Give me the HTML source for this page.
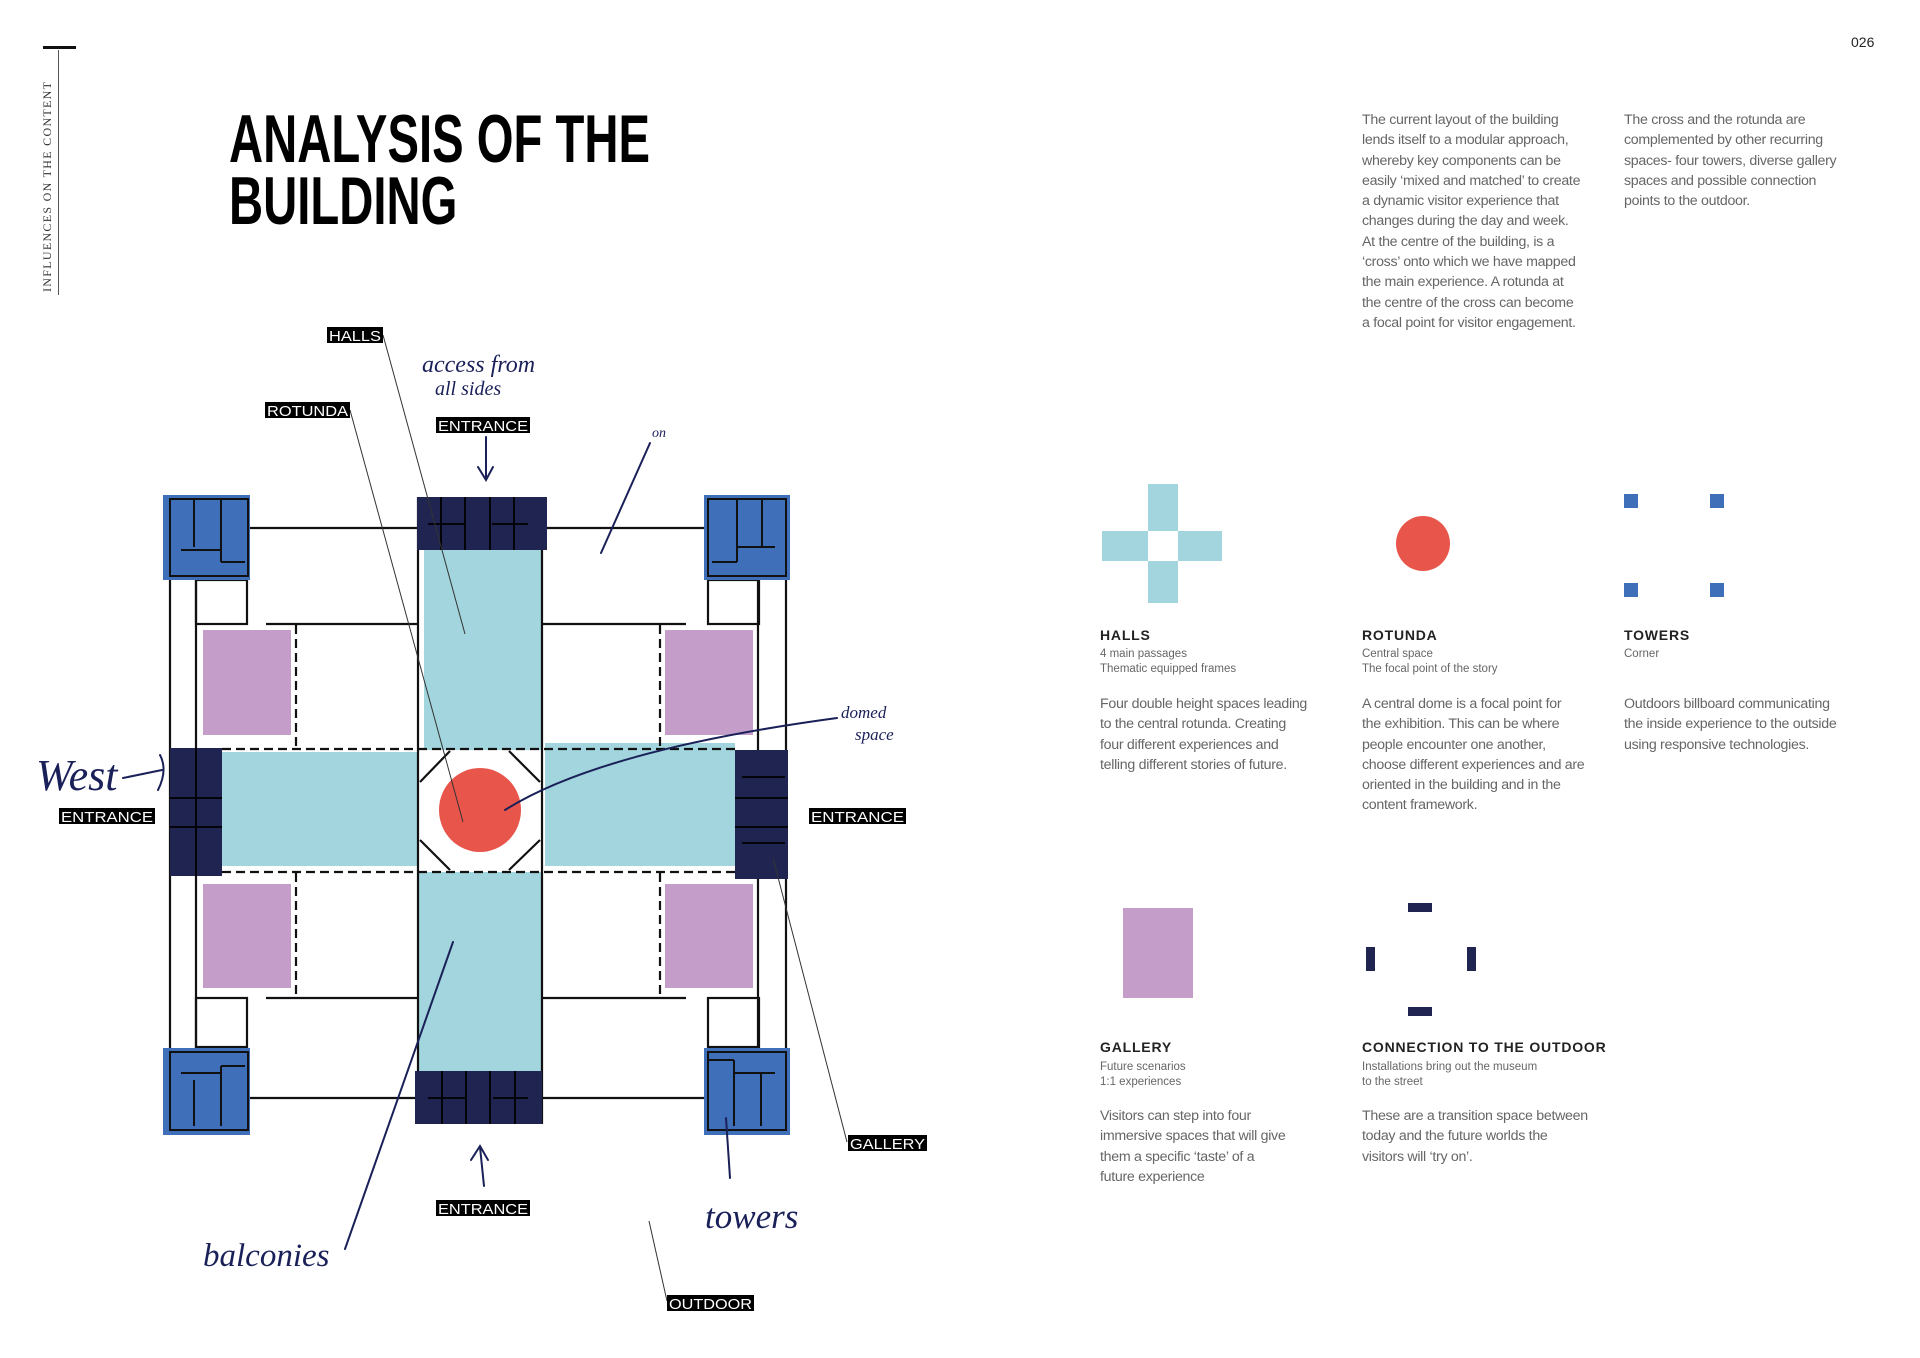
<!DOCTYPE html>
<html><head><meta charset="utf-8"><style>
*{margin:0;padding:0}
body{width:1920px;height:1358px;background:#fff;position:relative;overflow:hidden;font-family:"Liberation Sans",sans-serif}
.a{position:absolute}
.p{color:#666;font-size:14.2px;line-height:20.3px;letter-spacing:-0.3px;white-space:nowrap}
.h{color:#222;font-weight:bold;font-size:14px;letter-spacing:0.8px}
.s{color:#666;font-size:11.5px;line-height:14.5px}
.t{font-family:"Liberation Sans",sans-serif;font-weight:bold;font-size:68px;line-height:62px;color:#000;transform-origin:0 0;transform:scaleX(0.695);white-space:nowrap}
#r{position:absolute;left:-7px;top:0;width:1920px;height:1358px}
</style></head><body>
<div class="a" style="left:43px;top:46px;width:33px;height:3px;background:#111"></div>
<div class="a" style="left:58px;top:50px;width:1px;height:245px;background:#555"></div>
<div class="a" style="left:40px;top:292px;transform-origin:0 0;transform:rotate(-90deg);font-family:'Liberation Serif',serif;font-size:12px;line-height:14px;letter-spacing:1.3px;color:#333;white-space:nowrap;width:240px">INFLUENCES ON THE CONTENT</div>
<div class="a t" style="left:229px;top:108px">ANALYSIS OF THE<br>BUILDING</div>
<div id="r">
<div class="a" style="left:1858px;top:34px;font-size:14px;color:#222">026</div>

<div class="a p" style="left:1369px;top:110px">The current layout of the building<br>lends itself to a modular approach,<br>whereby key components can be<br>easily ‘mixed and matched’ to create<br>a dynamic visitor experience that<br>changes during the day and week.<br>At the centre of the building, is a<br>‘cross’ onto which we have mapped<br>the main experience. A rotunda at<br>the centre of the cross can become<br>a focal point for visitor engagement.</div>
<div class="a p" style="left:1631px;top:110px">The cross and the rotunda are<br>complemented by other recurring<br>spaces- four towers, diverse gallery<br>spaces and possible connection<br>points to the outdoor.</div>

<div class="a" style="left:1155px;top:484px;width:30px;height:119px;background:#a2d5dd"></div>
<div class="a" style="left:1109px;top:531px;width:120px;height:30px;background:#a2d5dd"></div>
<div class="a" style="left:1155px;top:531px;width:30px;height:30px;background:#fff"></div>
<div class="a" style="left:1403px;top:516px;width:54px;height:55px;border-radius:50%;background:#e8554a"></div>
<div class="a" style="left:1631px;top:494px;width:14px;height:14px;background:#3f6fb8"></div>
<div class="a" style="left:1717px;top:494px;width:14px;height:14px;background:#3f6fb8"></div>
<div class="a" style="left:1631px;top:583px;width:14px;height:14px;background:#3f6fb8"></div>
<div class="a" style="left:1717px;top:583px;width:14px;height:14px;background:#3f6fb8"></div>
<div class="a" style="left:1130px;top:908px;width:70px;height:90px;background:#c49dc8"></div>
<div class="a" style="left:1415px;top:903px;width:24px;height:9px;background:#1f2550"></div>
<div class="a" style="left:1415px;top:1007px;width:24px;height:9px;background:#1f2550"></div>
<div class="a" style="left:1373px;top:947px;width:9px;height:24px;background:#1f2550"></div>
<div class="a" style="left:1474px;top:947px;width:9px;height:24px;background:#1f2550"></div>

<div class="a h" style="left:1107px;top:627px">HALLS</div>
<div class="a s" style="left:1107px;top:647px">4 main passages<br>Thematic equipped frames</div>
<div class="a p" style="left:1107px;top:694px">Four double height spaces leading<br>to the central rotunda. Creating<br>four different experiences and<br>telling different stories of future.</div>
<div class="a h" style="left:1369px;top:627px">ROTUNDA</div>
<div class="a s" style="left:1369px;top:647px">Central space<br>The focal point of the story</div>
<div class="a p" style="left:1369px;top:694px">A central dome is a focal point for<br>the exhibition. This can be where<br>people encounter one another,<br>choose different experiences and are<br>oriented in the building and in the<br>content framework.</div>
<div class="a h" style="left:1631px;top:627px">TOWERS</div>
<div class="a s" style="left:1631px;top:647px">Corner</div>
<div class="a p" style="left:1631px;top:694px">Outdoors billboard communicating<br>the inside experience to the outside<br>using responsive technologies.</div>
<div class="a h" style="left:1107px;top:1039px">GALLERY</div>
<div class="a s" style="left:1107px;top:1060px">Future scenarios<br>1:1 experiences</div>
<div class="a p" style="left:1107px;top:1106px">Visitors can step into four<br>immersive spaces that will give<br>them a specific ‘taste’ of a<br>future experience</div>
<div class="a h" style="left:1369px;top:1039px">CONNECTION TO THE OUTDOOR</div>
<div class="a s" style="left:1369px;top:1060px">Installations bring out the museum<br>to the street</div>
<div class="a p" style="left:1369px;top:1106px">These are a transition space between<br>today and the future worlds the<br>visitors will ‘try on’.</div>
</div>

<svg class="a" style="left:0;top:0" width="1000" height="1358" viewBox="0 0 1000 1358">
<g>
<rect x="424" y="550" width="118" height="200" fill="#a2d5dd"/>
<rect x="418" y="872" width="124" height="199" fill="#a2d5dd"/>
<rect x="222" y="752" width="196" height="114" fill="#a2d5dd"/>
<rect x="545" y="743" width="190" height="123" fill="#a2d5dd"/>
<rect x="203" y="630" width="88" height="105" fill="#c49dc8"/>
<rect x="665" y="630" width="88" height="105" fill="#c49dc8"/>
<rect x="203" y="884" width="88" height="104" fill="#c49dc8"/>
<rect x="665" y="884" width="88" height="104" fill="#c49dc8"/>
<g stroke="#111" stroke-width="2.2" fill="none">
<line x1="247" y1="528" x2="417" y2="528"/><line x1="547" y1="528" x2="704" y2="528"/>
<line x1="247" y1="1098" x2="416" y2="1098"/><line x1="542" y1="1098" x2="704" y2="1098"/>
<line x1="170" y1="576" x2="170" y2="1050"/><line x1="786" y1="576" x2="786" y2="1050"/>
<line x1="196" y1="576" x2="196" y2="748"/><line x1="196" y1="876" x2="196" y2="1048"/>
<line x1="758" y1="576" x2="758" y2="750"/><line x1="758" y1="878" x2="758" y2="1048"/>
<rect x="196" y="580" width="51" height="44"/><rect x="708" y="580" width="51" height="44"/>
<rect x="196" y="998" width="51" height="49"/><rect x="708" y="998" width="51" height="49"/>
<line x1="266" y1="624" x2="418" y2="624"/><line x1="542" y1="624" x2="686" y2="624"/>
<line x1="266" y1="998" x2="418" y2="998"/><line x1="542" y1="998" x2="686" y2="998"/>
<line x1="418" y1="497" x2="418" y2="1124"/><line x1="542" y1="497" x2="542" y2="1124"/>
</g>
<g stroke="#111" stroke-width="2.2" stroke-dasharray="9,5" fill="none">
<line x1="222" y1="749" x2="735" y2="749"/><line x1="222" y1="872" x2="735" y2="872"/>
<line x1="296" y1="625" x2="296" y2="748"/><line x1="296" y1="873" x2="296" y2="998"/>
<line x1="660" y1="625" x2="660" y2="748"/><line x1="660" y1="873" x2="660" y2="998"/>
</g>
<polygon points="450,751 509,751 540,782 540,840 509,870 450,870 420,840 420,782" fill="#fff" stroke="none"/>
<g stroke="#111" stroke-width="2.2"><line x1="450" y1="751" x2="420" y2="782"/><line x1="509" y1="751" x2="540" y2="782"/><line x1="420" y1="840" x2="450" y2="870"/><line x1="540" y1="840" x2="509" y2="870"/></g>
<ellipse cx="480" cy="810" rx="41" ry="42" fill="#e8554a"/>
<g fill="#3f6fb8"><rect x="163" y="495" width="87" height="85"/><rect x="704" y="495" width="86" height="85"/><rect x="163" y="1048" width="87" height="87"/><rect x="704" y="1048" width="86" height="87"/></g>
<g stroke="#111" stroke-width="2" fill="none">
<rect x="170" y="499" width="78" height="77"/><line x1="194" y1="499" x2="194" y2="547"/><line x1="221" y1="499" x2="221" y2="562"/><line x1="181" y1="550" x2="221" y2="550"/><line x1="221" y1="562" x2="245" y2="562"/>
<rect x="708" y="499" width="78" height="77"/><line x1="737" y1="499" x2="737" y2="562"/><line x1="762" y1="499" x2="762" y2="547"/><line x1="737" y1="547" x2="775" y2="547"/><line x1="712" y1="562" x2="737" y2="562"/>
<rect x="170" y="1052" width="78" height="78"/><line x1="194" y1="1080" x2="194" y2="1126"/><line x1="221" y1="1066" x2="221" y2="1126"/><line x1="181" y1="1073" x2="221" y2="1073"/><line x1="221" y1="1066" x2="245" y2="1066"/>
<rect x="708" y="1052" width="78" height="78"/><line x1="734" y1="1060" x2="734" y2="1126"/><line x1="761" y1="1073" x2="761" y2="1126"/><line x1="734" y1="1073" x2="775" y2="1073"/><line x1="709" y1="1060" x2="734" y2="1060"/>
</g>
<g fill="#1f2550"><rect x="417" y="497" width="130" height="53"/><rect x="415" y="1071" width="127" height="53"/><rect x="170" y="748" width="52" height="128"/><rect x="735" y="750" width="53" height="129"/></g>
<g stroke="#000" stroke-width="1.8">
<line x1="441" y1="497" x2="441" y2="550"/><line x1="465" y1="497" x2="465" y2="550"/><line x1="490" y1="497" x2="490" y2="550"/><line x1="514" y1="497" x2="514" y2="550"/><line x1="428" y1="524" x2="465" y2="524"/><line x1="492" y1="524" x2="528" y2="524"/>
<line x1="442" y1="1071" x2="442" y2="1124"/><line x1="466" y1="1071" x2="466" y2="1124"/><line x1="490" y1="1071" x2="490" y2="1124"/><line x1="515" y1="1071" x2="515" y2="1124"/><line x1="428" y1="1098" x2="465" y2="1098"/><line x1="493" y1="1098" x2="528" y2="1098"/>
<line x1="196" y1="748" x2="196" y2="876"/><line x1="170" y1="798" x2="222" y2="798"/><line x1="170" y1="827" x2="222" y2="827"/>
<line x1="735" y1="798" x2="788" y2="798"/><line x1="735" y1="827" x2="788" y2="827"/><line x1="742" y1="777" x2="785" y2="777"/><line x1="742" y1="843" x2="785" y2="843"/>
</g>
<g stroke="#333" stroke-width="1"><line x1="383" y1="335" x2="465" y2="634"/><line x1="350" y1="410" x2="463" y2="822"/><line x1="847" y1="1142" x2="773" y2="858"/><line x1="667" y1="1301" x2="649" y2="1221"/></g>
<g stroke="#1a2058" stroke-width="2" fill="none" stroke-linecap="round">
<line x1="486" y1="437" x2="486" y2="479"/><path d="M478 467 L486 480 L493 467"/>
<line x1="650" y1="443" x2="601" y2="553"/>
<path d="M505 810 Q600 750 837 718"/>
<line x1="453" y1="942" x2="345" y2="1249"/>
<path d="M726 1118 Q728 1150 730 1178"/>
<path d="M123 778 L162 770"/><path d="M160 755 Q168 770 158 790"/>
<line x1="480" y1="1147" x2="484" y2="1186"/><path d="M471 1160 L480 1146 L488 1160"/>
</g>
<g fill="#1a2058" font-family="'Liberation Serif',serif" font-style="italic">
<text x="422" y="372" font-size="24">access from</text><text x="435" y="395" font-size="20">all sides</text>
<text x="652" y="437" font-size="14">on</text>
<text x="841" y="718" font-size="17">domed</text><text x="855" y="740" font-size="17">space</text>
<text x="36" y="790" font-size="44">West</text>
<text x="203" y="1266" font-size="33">balconies</text>
<text x="705" y="1228" font-size="35">towers</text>
</g>
<g font-family="'Liberation Sans',sans-serif" font-size="15" fill="#fff" lengthAdjust="spacingAndGlyphs">
<rect x="327" y="327" width="56" height="16" fill="#000"/><text x="329" y="341" textLength="52" lengthAdjust="spacingAndGlyphs">HALLS</text>
<rect x="265" y="402" width="85" height="16" fill="#000"/><text x="267" y="416" textLength="81" lengthAdjust="spacingAndGlyphs">ROTUNDA</text>
<rect x="436" y="417" width="94" height="16" fill="#000"/><text x="438" y="431" textLength="90" lengthAdjust="spacingAndGlyphs">ENTRANCE</text>
<rect x="59" y="808" width="96" height="16" fill="#000"/><text x="61" y="822" textLength="92" lengthAdjust="spacingAndGlyphs">ENTRANCE</text>
<rect x="809" y="808" width="97" height="16" fill="#000"/><text x="811" y="822" textLength="93" lengthAdjust="spacingAndGlyphs">ENTRANCE</text>
<rect x="848" y="1135" width="79" height="16" fill="#000"/><text x="850" y="1149" textLength="75" lengthAdjust="spacingAndGlyphs">GALLERY</text>
<rect x="436" y="1200" width="94" height="16" fill="#000"/><text x="438" y="1214" textLength="90" lengthAdjust="spacingAndGlyphs">ENTRANCE</text>
<rect x="667" y="1295" width="87" height="16" fill="#000"/><text x="669" y="1309" textLength="83" lengthAdjust="spacingAndGlyphs">OUTDOOR</text>
</g>
</g>
</svg>
</body></html>
